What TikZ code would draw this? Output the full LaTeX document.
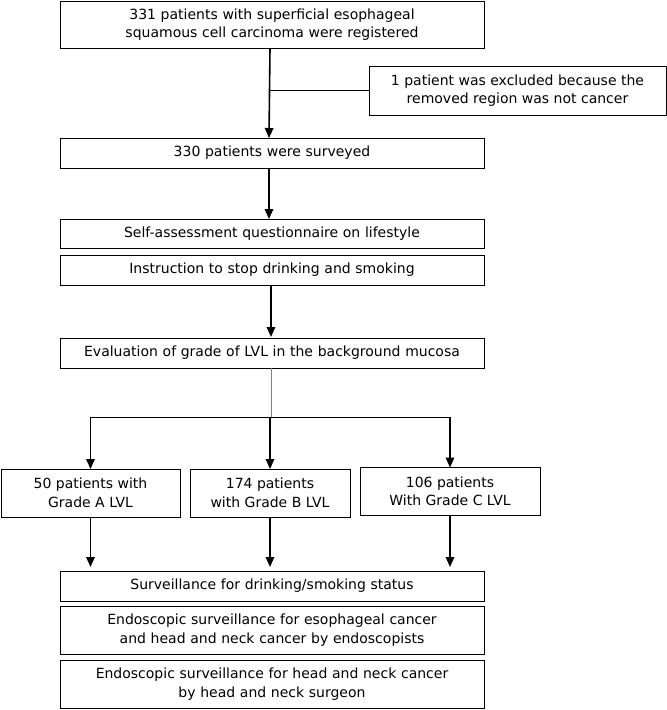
\documentclass[tikz,border=0pt]{standalone}
\usepackage{fontspec}
\setmainfont{DejaVu Sans}
\usetikzlibrary{positioning, arrows.meta}

\tikzset{
  box/.style={draw, line width=0.8pt, rectangle, align=center, inner sep=2pt,
    outer sep=0pt, font=\fontsize{14}{18.5}\selectfont},
  wide/.style={box, minimum width=424pt, text width=420pt},
  arr/.style={-{Triangle[length=10pt, width=8.5pt]}, line width=1.6pt},
  thinline/.style={line width=0.5pt}
}

\begin{document}
\begin{tikzpicture}[x=1pt, y=1pt]
\useasboundingbox (0,0) rectangle (667,-710);

\node[wide, minimum height=47pt] (reg) at (272,-24.5) {331 patients with superficial esophageal \\ squamous cell carcinoma were registered};
\node[box, minimum width=297pt, minimum height=49pt] (excl) at (517.5,-90.5) {1 patient was excluded because the \\ removed region was not cancer};
\node[wide, minimum height=30pt, below=90pt of reg] (surv) {330 patients were surveyed};
\node[wide, minimum height=29pt, below=51pt of surv] (self) {Self-assessment questionnaire on lifestyle};
\node[wide, minimum height=30pt, below=7pt of self] (instr) {Instruction to stop drinking and smoking};
\node[wide, minimum height=30pt, below=53pt of instr] (eval) {Evaluation of grade of LVL in the background mucosa};

\node[box, minimum width=160pt, minimum height=48pt, below=101pt of eval, xshift=-2pt] (gradeB) {174 patients \\ with Grade B LVL};
\node[box, minimum width=179pt, minimum height=48pt, left=10pt of gradeB] (gradeA) {50 patients with \\ Grade A LVL};
\node[box, minimum width=180pt, minimum height=48pt, right=10pt of gradeB, yshift=1.5pt] (gradeC) {106 patients \\ With Grade C LVL};

\node[wide, minimum height=30pt, below=54pt of gradeB, xshift=2pt] (watch) {Surveillance for drinking/smoking status};
\node[wide, minimum height=48pt, below=5pt of watch] (endo) {Endoscopic surveillance for esophageal cancer \\ and head and neck cancer by endoscopists};
\node[wide, minimum height=48pt, below=6pt of endo] (hn) {Endoscopic surveillance for head and neck cancer \\ by head and neck surgeon};

% main column
\draw[arr] (reg.south -| 270,0) -- (surv.north -| 269,0);
\draw[thinline] (excl.west) -- (excl.west -| 270,0);
\draw[arr] (surv.south -| 269,0) -- (self.north -| 269,0);
\draw[arr] (instr.south -| 271,0) -- ([yshift=1pt]eval.north -| 271,0);

% split to grades
\draw[thinline, gray] (eval.south -| 271,0) -- ++(0,-49) coordinate (split);
\draw[thinline] (split -| gradeA) -- (split -| gradeC);
\foreach \g in {gradeA, gradeB, gradeC}
  \draw[arr] (split -| \g) -- (\g.north);

% grades to surveillance
\foreach \g in {gradeA, gradeB, gradeC}
  \draw[arr, shorten >=4pt] (\g.south) -- (\g.south |- watch.north);
\end{tikzpicture}
\end{document}
